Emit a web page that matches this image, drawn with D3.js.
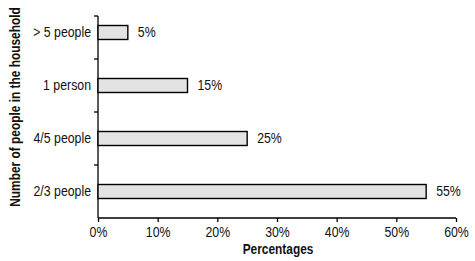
<!DOCTYPE html>
<html>
<head>
<meta charset="utf-8">
<script src="https://cdn.jsdelivr.net/npm/d3@7"></script>
<style>
  body { margin: 0; background: #fff; }
  svg text { font-family: "Liberation Sans", Arial, sans-serif; fill: #111; font-size: 14px; }
</style>
</head>
<body>
<svg id="chart" width="475" height="261"></svg>
<script>
// household size categories, top to bottom
var categories = ["> 5 people", "1 person", "4/5 people", "2/3 people"];
var percents = [5, 15, 25, 55];
var xTicks = [0, 10, 20, 30, 40, 50, 60];

var narrow = 0.88;     // horizontal squeeze to imitate a narrow face
var narrowBold = 0.85;

var svg = d3.select("#chart");

var x = d3.scaleLinear().domain([0, 60]).range([98, 456]);
var y = d3.scaleBand().domain(categories).range([6, 218]).paddingInner(0.736).paddingOuter(0.368);

// x axis
var xAxis = d3.axisBottom(x).tickValues(xTicks).tickSize(4).tickPadding(5)
  .tickFormat(function (d) { return d + "%"; });
var gx = svg.append("g").attr("transform", "translate(0,218)").call(xAxis);
gx.select(".domain").attr("stroke", "#000").attr("stroke-width", 1.3)
  .attr("d", "M" + x(0) + ",0H" + x(60));
gx.selectAll(".tick line").attr("stroke", "#000").attr("stroke-width", 1.3);
gx.selectAll("text").attr("fill", "#111")
  .attr("transform", "scale(" + narrow + ",1)");
gx.attr("font-size", null).attr("font-family", null);

// y axis: line with ticks at band boundaries
var step = y.step();
var bounds = [16];
categories.forEach(function (c, i) {
  if (i > 0) bounds.push(y(c) - (step - y.bandwidth()) / 2);
});
svg.append("line").attr("x1", x(0)).attr("x2", x(0)).attr("y1", 16).attr("y2", 218)
  .attr("stroke", "#000").attr("stroke-width", 1.3);
svg.selectAll(".ytick").data(bounds).enter().append("line")
  .attr("x1", x(0) - 4).attr("x2", x(0))
  .attr("y1", function (d) { return d; }).attr("y2", function (d) { return d; })
  .attr("stroke", "#000").attr("stroke-width", 1.3);

// category labels
svg.selectAll(".ylab").data(categories).enter().append("text")
  .attr("transform", function (d) {
    return "translate(91," + (y(d) + y.bandwidth() / 2) + ") scale(" + narrow + ",1)";
  })
  .attr("dy", "0.35em")
  .attr("text-anchor", "end")
  .text(function (d) { return d; });

// bars
svg.selectAll(".bar").data(percents).enter().append("rect")
  .attr("x", x(0))
  .attr("y", function (d, i) { return y(categories[i]); })
  .attr("width", function (d) { return x(d) - x(0); })
  .attr("height", y.bandwidth())
  .attr("fill", "#e3e3e3")
  .attr("stroke", "#000")
  .attr("stroke-width", 1.4);

// value labels
svg.selectAll(".val").data(percents).enter().append("text")
  .attr("transform", function (d, i) {
    return "translate(" + (x(d) + 10) + "," + (y(categories[i]) + y.bandwidth() / 2) + ") scale(" + narrow + ",1)";
  })
  .attr("dy", "0.35em")
  .text(function (d) { return d + "%"; });

// axis titles
svg.append("text")
  .attr("transform", "translate(278,254) scale(" + narrowBold + ",1)")
  .attr("text-anchor", "middle")
  .style("font-weight", "bold")
  .text("Percentages");

svg.append("text")
  .attr("transform", "translate(20,107) rotate(-90) scale(" + narrowBold + ",1)")
  .attr("text-anchor", "middle")
  .style("font-weight", "bold")
  .text("Number of people in the household");
</script>
</body>
</html>
